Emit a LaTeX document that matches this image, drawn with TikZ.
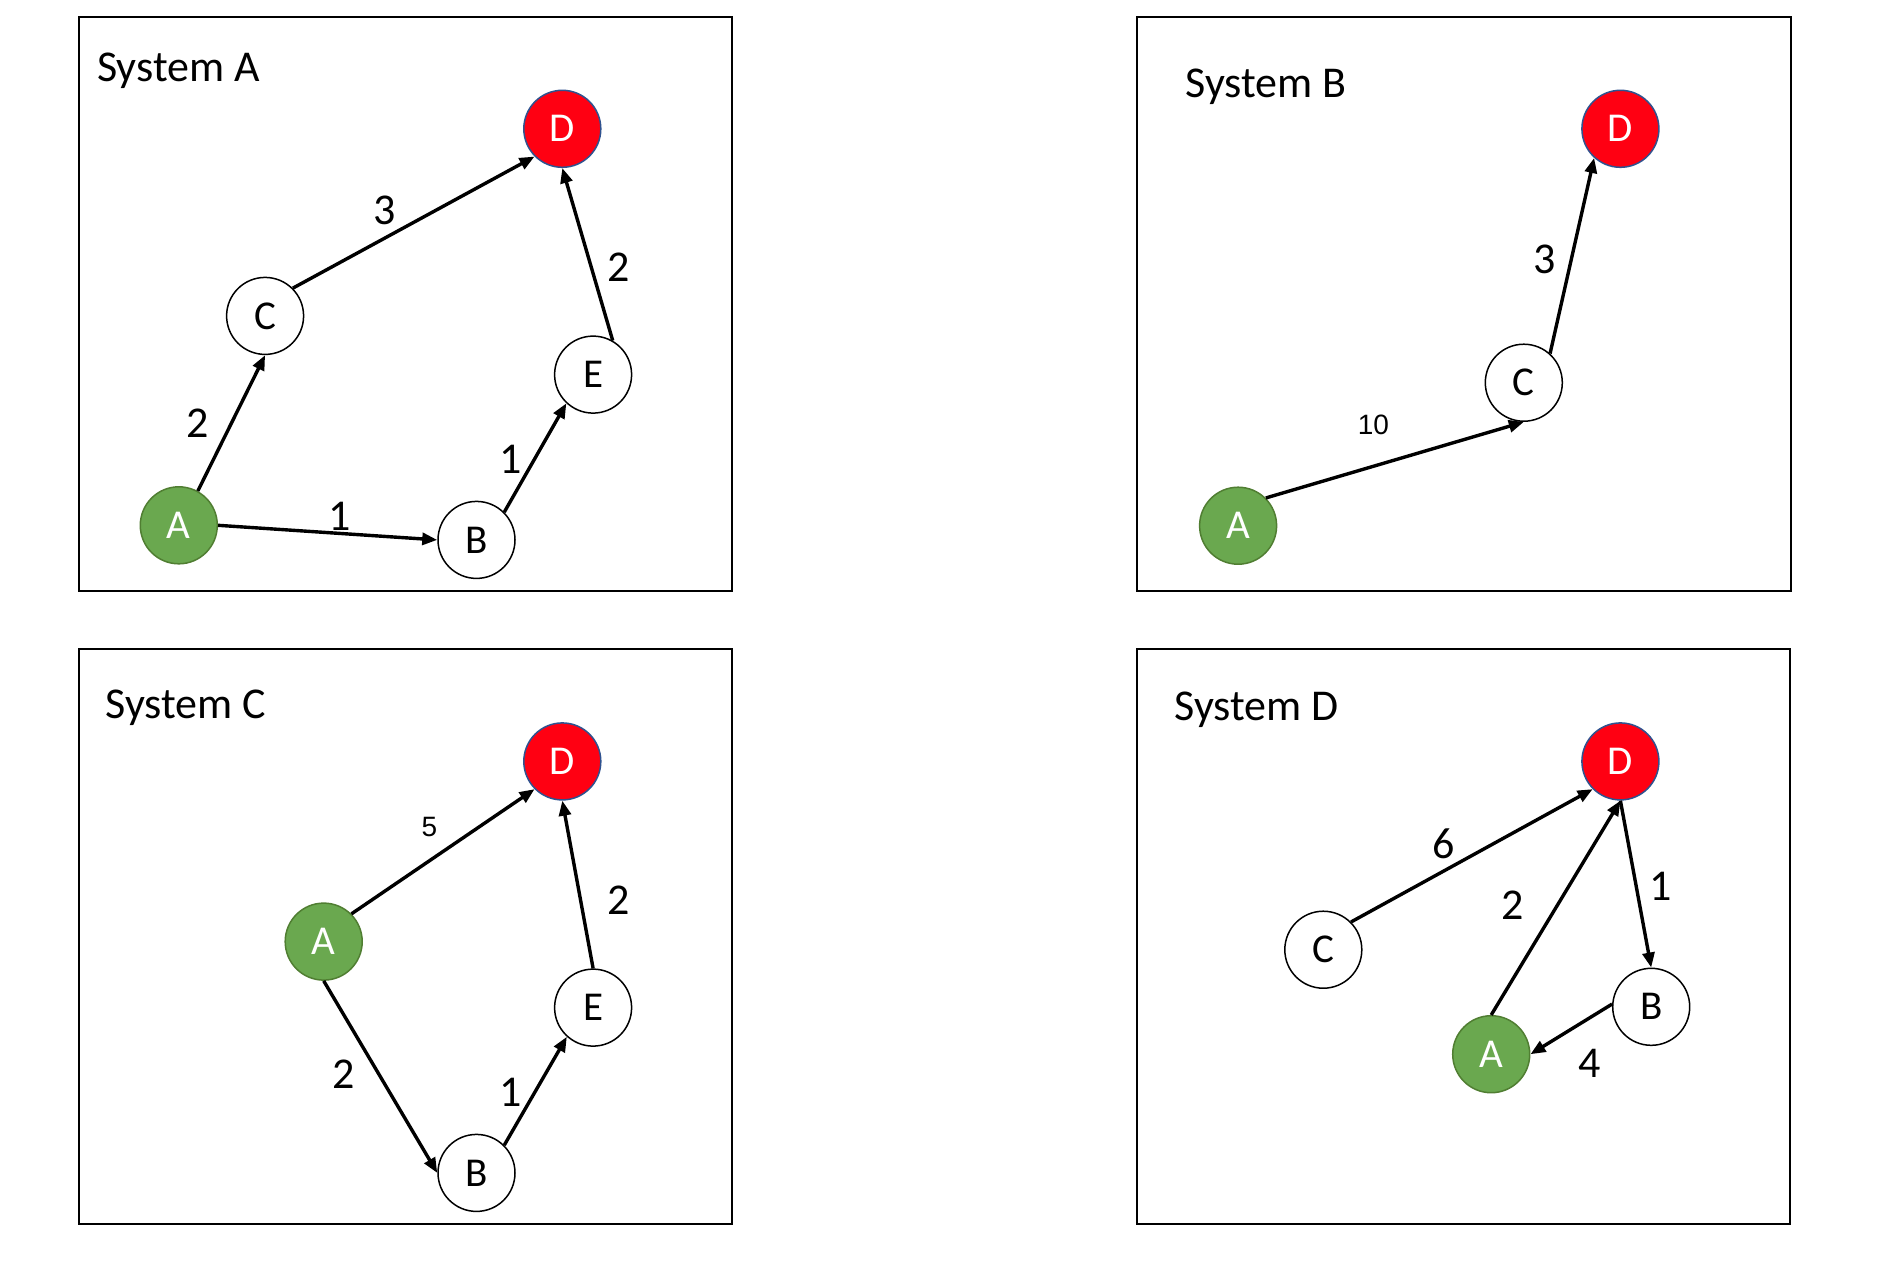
\documentclass[tikz,border=0pt]{standalone}
\usepackage{fontspec}
\setmainfont{Carlito}
\newfontfamily\arialf{Liberation Sans}
\usetikzlibrary{arrows.meta}
\definecolor{srcfill}{HTML}{6AA84F}
\definecolor{srcline}{HTML}{507E32}
\definecolor{dstfill}{HTML}{FF0012}
\definecolor{dstline}{HTML}{2F528F}
\begin{document}
\begin{tikzpicture}[x=1pt,y=-1pt,
  panel/.style={draw=black,line width=2pt},
  vtx/.style={circle,minimum size=77pt,inner sep=0pt,font=\fontsize{41}{44}\selectfont,line width=1.5pt},
  plain/.style={vtx,draw=black,fill=white},
  src/.style={vtx,draw=srcline,fill=srcfill,text=white},
  dst/.style={vtx,draw=dstline,fill=dstfill,text=white},
  edge/.style={line width=3.4pt,-{Triangle[length=15pt,width=12pt]}},
  wt/.style={font=\fontsize{44}{48}\selectfont,inner sep=0pt},
  wtsmall/.style={font=\arialf\fontsize{28}{32}\selectfont,inner sep=0pt},
  ttl/.style={font=\fontsize{44}{48}\selectfont,anchor=base west,inner sep=0pt}
]
\useasboundingbox[fill=white] (0,0) rectangle (1894,1270);

% ---------- System A ----------
\draw[panel] (78.5,17) rectangle (732,591);
\node[ttl] (tA) at (97,81.7) {System A};
\node[dst]   (aD) at (562.3,128.8) {D};
\node[plain] (aC) at (265.1,315.9) {C};
\node[plain] (aE) at (593.1,374.6) {E};
\node[src]   (aA) at (178.8,525.3) {A};
\node[plain] (aB) at (476.5,539.9) {B};
\draw[edge] (aA.61) -- (aC.south);
\draw[edge] (aC.45) -- (aD.225);
\draw[edge] (aA.east) -- (aB.west);
\draw[edge] (aB.45) -- (aE.227);
\draw[edge] (aE.60) -- (aD.south);
\node[wt] (la1) at (384.7,210.6) {3};
\node[wt] (la2) at (618.5,267.3) {2};
\node[wt] (la3) at (197.5,423.2) {2};
\node[wt] (la4) at (511,459.7) {1};
\node[wt] (la5) at (340,516.4) {1};

% ---------- System B ----------
\draw[panel] (1136.6,17) rectangle (1790.7,591);
\node[ttl] (tB) at (1185.5,97.2) {System B};
\node[dst]   (bD) at (1620.4,128.8) {D};
\node[plain] (bC) at (1523.8,382.7) {C};
\node[src]   (bA) at (1238.1,525.7) {A};
\draw[edge] (bA.45) -- (bC.south);
\draw[edge] (bC.48) -- (bD.228);
\node[wt] (lb1) at (1544.9,259.2) {3};
\node[wtsmall] (lb2) at (1373.4,425.3) {10};

% ---------- System C ----------
\draw[panel] (78.5,649.2) rectangle (732,1223.5);
\node[ttl] (tC) at (105.5,718) {System C};
\node[dst]   (cD) at (562.3,761.4) {D};
\node[src]   (cA) at (323.7,941.6) {A};
\node[plain] (cE) at (593.1,1007.6) {E};
\node[plain] (cB) at (476.5,1172.9) {B};
\draw[edge] (cA.45) -- (cD.225);
\draw[edge] (cA.south) -- (cB.west);
\draw[edge] (cB.45) -- (cE.228);
\draw[edge] (cE.north) -- (cD.south);
\node[wtsmall] (lc1) at (429.4,827.4) {5};
\node[wt] (lc2) at (619,900.3) {2};
\node[wt] (lc3) at (343.7,1074.4) {2};
\node[wt] (lc4) at (511,1092.7) {1};

% ---------- System D ----------
\draw[panel] (1136.6,649.2) rectangle (1789.5,1223.5);
\node[ttl] (tD) at (1174.5,720.9) {System D};
\node[dst]   (dD) at (1620.4,761.4) {D};
\node[plain] (dC) at (1323.3,949.7) {C};
\node[plain] (dB) at (1651.2,1006.8) {B};
\node[src]   (dA) at (1491.2,1054.2) {A};
\draw[edge] (dC.45) -- (dD.225);
\draw[edge] (dA.north) -- (dD.south);
\draw[edge] (dD.south) -- (dB.north);
\draw[edge] (dB.176) -- (dA.east);
\node[wt] (ld1) at (1443.5,843.6) {6};
\node[wt] (ld2) at (1512.9,905.6) {2};
\node[wt] (ld3) at (1660.3,886.1) {1};
\node[wt] (ld4) at (1589.6,1063.5) {4};
\end{tikzpicture}
\end{document}
